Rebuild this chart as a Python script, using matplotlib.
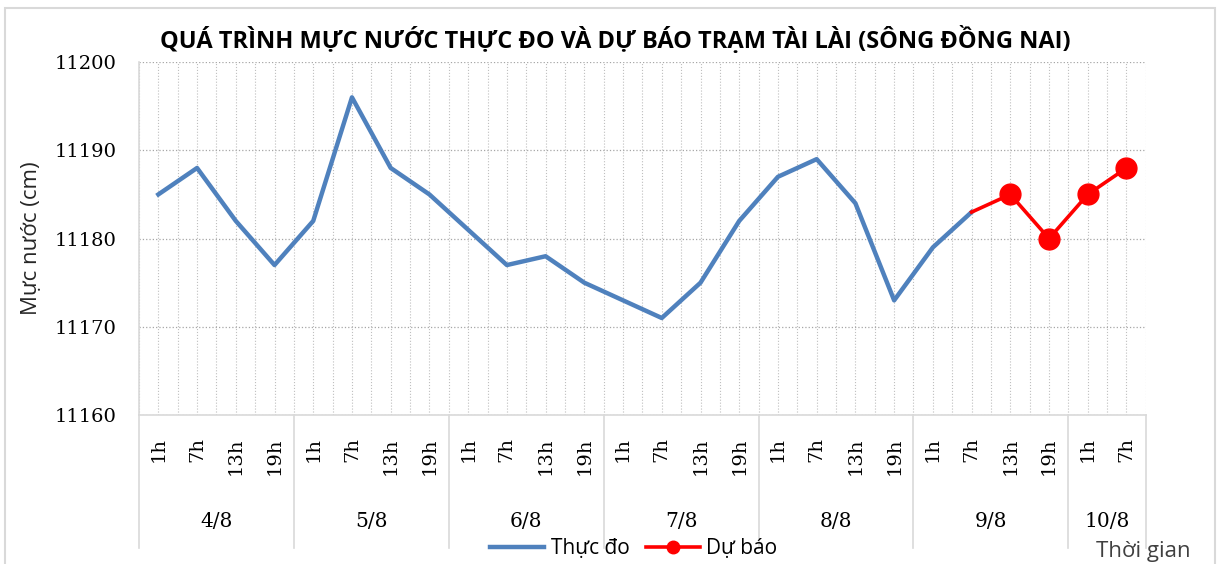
import numpy as np
import matplotlib
matplotlib.use("Agg")
import matplotlib.pyplot as plt
from matplotlib.patches import Rectangle
from matplotlib.lines import Line2D

# data
days = ["4/8", "5/8", "6/8", "7/8", "8/8", "9/8", "10/8"]
hours_per_day = [["1h", "7h", "13h", "19h"]] * 6 + [["1h", "7h"]]
hour_labels = [h for hs in hours_per_day for h in hs]

thuc_do = [11185, 11188, 11182, 11177,
           11182, 11196, 11188, 11185,
           11181, 11177, 11178, 11175,
           11173, 11171, 11175, 11182,
           11187, 11189, 11184, 11173,
           11179, 11183]
du_bao = [11183, 11185, 11180, 11185, 11188]  # starts at 9/8 7h

yticks = [11160, 11170, 11180, 11190, 11200]

sans = ["Open Sans", "DejaVu Sans"]
serif = ["DejaVu Serif"]

n = len(hour_labels)
x = np.arange(n)
y_obs = np.array(thuc_do, dtype=float)
y_fc = np.full(n, np.nan)
fc_start = len(thuc_do) - 1
y_fc[fc_start:] = du_bao

fig = plt.figure(figsize=(12.19, 5.64), dpi=100)
ax = fig.add_axes([0.114, 0.264, 0.826, 0.626])

# outer chart border
fig.patches.append(Rectangle((5 / 1219, -0.02), 1210 / 1219, 1 - 8 / 564 + 0.02,
                             transform=fig.transFigure, fill=False,
                             edgecolor="#D9D9D9", lw=1.5))

ax.plot(x[:len(thuc_do)], y_obs, color="#4F81BD", lw=3.2, label="Thực đo", zorder=3)
ax.plot(x, y_fc, color="#FF0000", lw=2.6, marker="o", markersize=15,
        markevery=list(range(fc_start + 1, n)), label="Dự báo", zorder=4)

ax.set_xlim(-0.5, n - 0.5)
ax.set_ylim(yticks[0], yticks[-1])
ax.set_yticks(yticks)
ax.set_yticklabels([str(v) for v in yticks], family=serif, fontsize=14)

ax.set_xticks(x)
ax.set_xticklabels(hour_labels, rotation=90, family=serif, fontsize=14, va="top")
ax.set_xticks(np.arange(-0.5, n, 1.0), minor=True)
ax.tick_params(axis="x", which="both", length=0, pad=16)
ax.tick_params(axis="y", length=0, pad=16)

ax.grid(axis="y", ls=":", color="#A6A6A6", lw=0.9)
ax.grid(axis="x", which="both", ls=":", color="#BFBFBF", lw=0.8)
for s in ["top", "right"]:
    ax.spines[s].set_visible(False)
for s in ["left", "bottom"]:
    ax.spines[s].set_color("#D9D9D9")
    ax.spines[s].set_linewidth(1.2)

# day groups under the hour labels
tr = ax.get_xaxis_transform()
start = 0
bounds = [-0.5]
for d, hs in zip(days, hours_per_day):
    mid = start + (len(hs) - 1) / 2
    ax.text(mid, -0.30, d, transform=tr, ha="center", va="center",
            family=serif, fontsize=14.5)
    start += len(hs)
    bounds.append(start - 0.5)
for b in bounds:
    ax.add_line(Line2D([b, b], [0, -0.377], transform=tr, color="#D9D9D9",
                       lw=1.2, clip_on=False))

fig.text(0.505, 0.929, "QUÁ TRÌNH MỰC NƯỚC THỰC ĐO VÀ DỰ BÁO TRẠM TÀI LÀI (SÔNG ĐỒNG NAI)",
         ha="center", va="center", family=sans, fontsize=17, fontweight="bold")
ax.set_ylabel("Mực nước (cm)", family=sans, fontsize=16, labelpad=9, color="#262626")
fig.text(0.938, 0.023, "Thời gian", ha="center", va="center", family=sans,
         fontsize=16, color="#404040")

fig.legend(loc="center", bbox_to_anchor=(0.52, 0.027), ncol=2, frameon=False,
           prop={"family": sans, "size": 15}, handlelength=2.6,
           columnspacing=0.8, handletextpad=0.3, markerscale=0.6)

fig.savefig("out.png", dpi=100)
